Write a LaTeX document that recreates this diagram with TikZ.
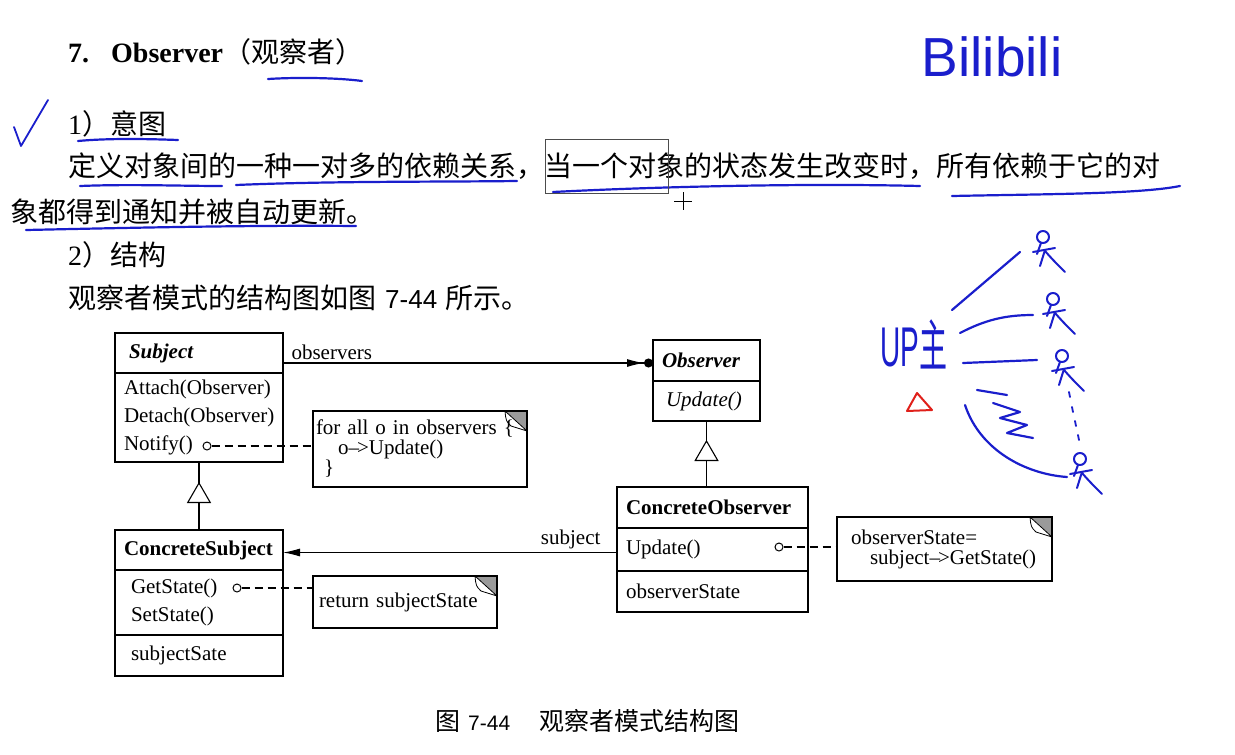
\documentclass[tikz,border=0pt]{standalone}
\usepackage{fontspec}
\usepackage{graphicx}
\setmainfont{Liberation Serif}
\newfontfamily\cjk{Noto Sans CJK SC}
\newfontfamily\sansdigits{Liberation Sans}
\usepackage{tikz}
\usetikzlibrary{arrows.meta, positioning, calc, shapes.geometric}
\usepackage{xcolor}
\definecolor{penblue}{HTML}{1A1ECC}
\definecolor{penred}{HTML}{E0201A}
\definecolor{foldgray}{HTML}{9A9A9A}

\begin{document}
\begin{tikzpicture}[
        x=1pt, y=-1pt,
        bodytext/.style={anchor=west, inner sep=0pt, font=\cjk\fontsize{28}{34}\selectfont},
        cls/.style={draw, line width=1.1pt, outer sep=0pt, inner xsep=9pt, inner ysep=0pt, align=left, text width=#1, font=\fontsize{21}{28}\selectfont},
        note/.style={draw, line width=1.1pt, outer sep=0pt, anchor=north west, align=left, inner ysep=0pt, font=\fontsize{21}{20}\selectfont,
            path picture={
                \fill[foldgray] ([xshift=-22pt]path picture bounding box.north east) -- (path picture bounding box.north east) -- ([yshift=-20pt]path picture bounding box.north east) -- cycle;
                \draw[line width=0.8pt, fill=white] ([xshift=-22pt]path picture bounding box.north east) .. controls ([xshift=-21pt,yshift=-10pt]path picture bounding box.north east) .. ([xshift=-16pt,yshift=-15pt]path picture bounding box.north east) -- ([yshift=-20pt]path picture bounding box.north east) -- cycle;
            }},
        port/.style={circle, draw, line width=1pt, fill=white, inner sep=0pt, minimum size=8pt},
        dashline/.style={line width=1.3pt, dash pattern=on 8pt off 5pt},
        assoc/.style={line width=1.1pt, -{Latex[length=17pt, width=8pt]}},
        gentri/.style={regular polygon, regular polygon sides=3, draw, fill=white, line width=1.1pt, inner sep=0pt, minimum size=26pt},
        lbl/.style={inner sep=0pt, font=\fontsize{21}{24}\selectfont},
        hand/.style={draw=penblue, line width=2.2pt, line cap=round, line join=round}
    ]
    \fill[white] (0,0) rectangle (1235,755);
    \useasboundingbox (0,0) rectangle (1235,755);

    % page text
    \node[bodytext, font=\fontsize{28}{34}\selectfont] (title) at (68,52) {\bfseries 7.\hspace{22pt}Observer{\cjk\mdseries （观察者）}};
    \node[bodytext, font=\fontsize{28}{34}\selectfont] (intent) at (68,124) {1{\cjk ）意图}};
    \node[bodytext] (line1) at (68,166) {定义对象间的一种一对多的依赖关系，当一个对象的状态发生改变时，所有依赖于它的对};
    \node[bodytext] (line2) at (10,212) {象都得到通知并被自动更新。};
    \node[bodytext, font=\fontsize{28}{34}\selectfont] (struct) at (68,255) {2{\cjk ）结构}};
    \node[bodytext] (line3) at (68,298) {观察者模式的结构图如图\hspace{9pt}{\sansdigits\fontsize{26}{30}\selectfont 7-44}\hspace{8pt}所示。};

    % classes
    \node[cls=150pt, minimum height=40pt, anchor=north west] (subj) at (115,333) {\hspace*{5pt}\bfseries\itshape Subject};
    \node[cls=150pt, minimum height=89pt, below=0pt of subj] (subjops) {Attach(Observer)\\Detach(Observer)\\Notify()};

    \node[cls=89pt, minimum height=41pt, anchor=north west] (obs) at (653,340) {\bfseries\itshape Observer};
    \node[cls=89pt, minimum height=40pt, below=0pt of obs] (obsops) {\hspace*{4pt}\itshape Update()};

    \node[cls=173pt, minimum height=41pt, anchor=north west] (cobs) at (617,487) {\bfseries ConcreteObserver};
    \node[cls=173pt, minimum height=43pt, below=0pt of cobs] (cobsops) {Update()};
    \node[cls=173pt, minimum height=41pt, below=0pt of cobsops] (cobsattr) {observerState};

    \node[cls=150pt, minimum height=40pt, anchor=north west] (csubj) at (115,530) {\bfseries ConcreteSubject};
    \node[cls=150pt, minimum height=65pt, below=0pt of csubj] (csubjops) {\hspace*{7pt}GetState()\\\hspace*{7pt}SetState()};
    \node[cls=150pt, minimum height=41pt, below=0pt of csubjops] (csubjattr) {\hspace*{7pt}subjectSate};

    % notes
    \node[note, text width=208pt, inner xsep=3pt, minimum height=76pt] (note1) at (313,411) {for all o in observers \{\\\hspace*{22pt}o\textendash\kern-2pt>Update()\\\hspace*{8pt}\}};
    \node[note, text width=172pt, inner xsep=6pt, minimum height=52pt] (note2) at (313,576) {\raisebox{-4pt}{return subjectState}};
    \node[note, text width=187pt, inner xsep=14pt, minimum height=64pt] (note3) at (837,517) {observerState=\\\hspace*{19pt}subject\textendash\kern-2pt>GetState()};

    \node[port] (pnotify) at (207,446) {};
    \node[port] (pget) at (237,588) {};
    \node[port] (pupd) at (779,547) {};

    \draw[dashline] (pnotify) -- (pnotify -| note1.west);
    \draw[dashline] (pget) -- (pget -| note2.west);
    \draw[dashline] (pupd) -- (pupd -| note3.west);

    % inheritance
    \draw[line width=1.1pt] (obsops.south) -- node[gentri] (tri1) {} (obsops.south |- cobs.north);
    \draw[line width=1.1pt] (subjops.south) -- node[gentri] (tri2) {} (csubj.north);

    % associations
    \coordinate (obsln) at ([yshift=-10pt]subj.east);
    \draw[line width=1.1pt, -{Latex[length=17pt, width=8pt] Circle[length=9pt]}] (obsln) -- node[lbl, pos=0, anchor=south west, xshift=8pt, yshift=3pt] (lblobs) {observers} (obsln -| obs.west);
    \coordinate (subjln) at ([yshift=-3pt]cobsops.west);
    \draw[assoc] (subjln) -- node[lbl, pos=0, anchor=south east, xshift=-16pt, yshift=3pt] (lblsubj) {subject} (subjln -| csubj.east);

    \node[bodytext, font=\fontsize{25}{30}\selectfont] (caption) at (435,721) {{\cjk 图}\hspace{8pt}{\sansdigits\fontsize{21}{26}\selectfont 7-44}\hspace{29pt}{\cjk 观察者模式结构图}};

    % pen marks
    \draw[hand] (268,79) .. controls (300,77) and (340,78) .. (362,81);
    \draw[hand, line width=1.8pt] (14,127) -- (21,146) -- (48,100);
    \draw[hand] (78,141) .. controls (110,138) and (150,139) .. (178,140);
    \draw[hand] (80,186) .. controls (130,184) and (180,186) .. (222,186);
    \draw[hand] (236,185) .. controls (330,181) and (440,182) .. (517,181);
    \draw[hand] (553,192) .. controls (650,187) and (800,183) .. (920,186);
    \draw[hand] (952,196) .. controls (1050,194) and (1140,194) .. (1180,186);
    \draw[hand] (26,230) .. controls (120,228) and (250,225) .. (356,226);
    \draw[line width=0.8pt, black!70] (545,139) rectangle (668,193);
    \draw[line width=0.8pt] (683,192) -- (683,210) (674,201) -- (692,201);

    \node[inner sep=0pt, text=penblue, font=\sansdigits\fontsize{55}{55}\selectfont] (bili) at (992,57) {Bilibili};
    \node[inner sep=0pt, text=penblue, font=\sansdigits\fontsize{56}{56}\selectfont] (upzhu) at (914,344) {\scalebox{0.5}[1]{UP{\cjk 主}}};
    \draw[penred, line width=2pt, line join=round] (917,393) -- (907,411) -- (932,410) -- cycle;

    \draw[hand] (952,310) -- (1020,252);
    \draw[hand] (960,333) .. controls (985,320) and (1005,315) .. (1033,315);
    \draw[hand] (963,363) -- (1037,360);
    \draw[hand] (977,390) -- (1007,395);
    \draw[hand] (993,403) -- (1020,412) -- (1000,418) -- (1027,425) -- (1007,433) -- (1033,438);
    \draw[hand] (965,405) .. controls (980,450) and (1025,474) .. (1067,477);
    \foreach \fx/\fy in {1033/228, 1043/290, 1052/347, 1070/450} {
        \draw[hand, line width=2pt] (\fx+10,\fy+9) circle[radius=6pt];
        \draw[hand, line width=2pt] (\fx+8,\fy+15) -- (\fx+4,\fy+26);
        \draw[hand, line width=2pt] (\fx,\fy+24) -- (\fx+22,\fy+20);
        \draw[hand, line width=2pt] (\fx+12,\fy+22) -- (\fx+7,\fy+38);
        \draw[hand, line width=2pt] (\fx+12,\fy+23) .. controls (\fx+20,\fy+32) .. (\fx+32,\fy+44);
    }
    \foreach \dy/\dx in {392/1069, 407/1072, 421/1075, 435/1078}
        \draw[hand, line width=1.8pt] (\dx,\dy) -- (\dx+1,\dy+5);
\end{tikzpicture}
\end{document}
